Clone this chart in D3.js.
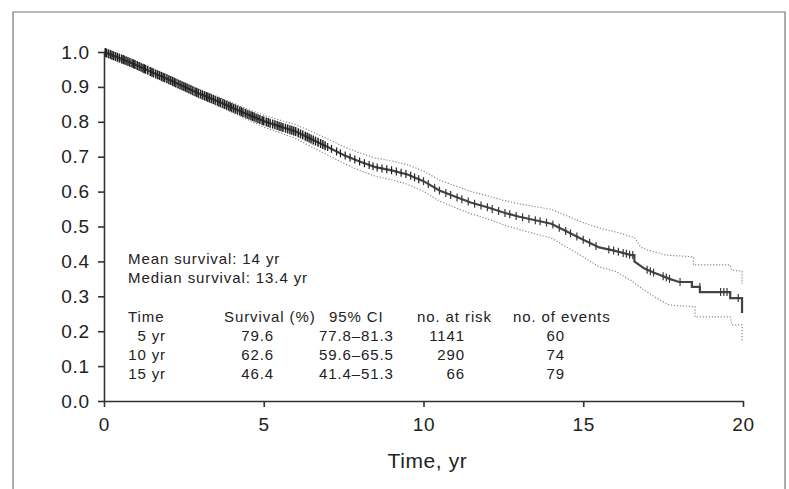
<!DOCTYPE html>
<html lang="en">
<head>
<meta charset="UTF-8">
<title>Survival curve</title>
<script src="https://d3js.org/d3.v7.min.js"></script>
<style>
    body { margin: 0; background: #fff; }
    svg { display: block; }
    text { font-family: 'Liberation Sans', Arial, sans-serif; fill: #222; }
</style>
</head>
<body>
<div id="chart"></div>
<script>
    // --- Data ---
    const gridTime = [0, 0.5, 1, 1.5, 2, 2.5, 3, 3.5, 4, 4.5, 5, 5.5, 6, 6.5, 7, 7.5,
                      8, 8.5, 9, 9.5, 10, 10.5, 11, 11.5, 12, 12.5, 13, 13.5, 14, 14.5, 15, 15.5];

    const mainEarly = [1.000, 0.982, 0.963, 0.942, 0.922, 0.901, 0.880, 0.861, 0.841, 0.821,
                       0.802, 0.787, 0.772, 0.750, 0.728, 0.705, 0.686, 0.670, 0.661, 0.649,
                       0.630, 0.603, 0.585, 0.568, 0.555, 0.540, 0.528, 0.518, 0.508, 0.485,
                       0.462, 0.440];
    const mainLateTime = [16, 16.5, 16.6, 16.6, 16.9, 17.2, 17.4, 17.7, 18.0, 18.4, 18.4,
                          18.65, 18.65, 19.6, 19.6, 19.97, 19.97];
    const mainLate = [0.430, 0.418, 0.418, 0.400, 0.380, 0.368, 0.361, 0.350, 0.341, 0.341, 0.327,
                      0.327, 0.312, 0.312, 0.295, 0.295, 0.252];

    const upperEarly = [1.000, 0.988, 0.971, 0.951, 0.932, 0.912, 0.892, 0.874, 0.855, 0.836,
                        0.819, 0.805, 0.792, 0.772, 0.751, 0.729, 0.711, 0.696, 0.688, 0.677,
                        0.659, 0.633, 0.616, 0.600, 0.588, 0.575, 0.565, 0.557, 0.549, 0.530,
                        0.511, 0.496];
    const upperLateTime = [16.15, 16.6, 16.8, 17.0, 17.6, 18.45, 18.45, 19.6, 19.65, 19.97, 19.97];
    const upperLate = [0.481, 0.468, 0.441, 0.433, 0.418, 0.413, 0.390, 0.390, 0.375, 0.372, 0.335];

    const lowerEarly = [1.000, 0.976, 0.955, 0.933, 0.912, 0.890, 0.868, 0.848, 0.827, 0.806,
                        0.785, 0.769, 0.752, 0.728, 0.705, 0.681, 0.661, 0.644, 0.634, 0.621,
                        0.601, 0.573, 0.554, 0.536, 0.522, 0.505, 0.491, 0.479, 0.467, 0.440,
                        0.413, 0.384];
    const lowerLateTime = [16.0, 16.5, 16.9, 17.4, 17.7, 18.5, 18.5, 19.6, 19.65, 19.97, 19.97];
    const lowerLate = [0.372, 0.345, 0.318, 0.289, 0.275, 0.270, 0.241, 0.241, 0.218, 0.218, 0.169];

    // censored observations (years)
    const censorTimes = [0.04, 0.08, 0.14, 0.2, 0.25, 0.3, 0.36, 0.42, 0.48, 0.55, 0.6, 0.63,
        0.69, 0.75, 0.81, 0.88, 0.93, 0.97, 1.04, 1.1, 1.16, 1.22, 1.26, 1.3, 1.37, 1.45, 1.5,
        1.55, 1.62, 1.68, 1.74, 1.8, 1.85, 1.9, 1.97, 2.03, 2.09, 2.15, 2.2, 2.25, 2.32, 2.38,
        2.44, 2.5, 2.55, 2.6, 2.66, 2.72, 2.78, 2.85, 2.9, 2.95, 3.02, 3.08, 3.14, 3.2, 3.25,
        3.3, 3.36, 3.42, 3.48, 3.55, 3.6, 3.65, 3.72, 3.78, 3.84, 3.9, 3.95, 4.0, 4.06, 4.12,
        4.18, 4.25, 4.3, 4.35, 4.42, 4.48, 4.54, 4.6, 4.65, 4.7, 4.76, 4.82, 4.88, 4.95, 5.0,
        5.08, 5.14, 5.2, 5.28, 5.35, 5.42, 5.48, 5.54, 5.6, 5.68, 5.75, 5.82, 5.88, 5.94, 6.0,
        6.08, 6.15, 6.22, 6.3, 6.36, 6.42, 6.48, 6.55, 6.62, 6.7, 6.78, 6.85, 6.92, 7.0,
        7.12, 7.28, 7.4, 7.55, 7.7, 7.85, 8.0, 8.15, 8.3, 8.42, 8.55, 8.7, 8.85, 9.0, 9.15, 9.3,
        9.45, 9.6, 9.72, 9.85, 10.0, 10.15, 10.35, 10.5, 10.7, 10.85, 11.05, 11.2, 11.4, 11.6,
        11.8, 12.0, 12.15, 12.35, 12.55, 12.7, 12.9, 13.1, 13.3, 13.5, 13.65, 13.85, 14.05,
        14.25, 14.45, 14.6, 14.8, 15.0, 15.2, 15.4, 15.8, 15.95, 16.1, 16.25, 16.35, 16.45,
        16.55, 17.0, 17.1, 17.2, 17.5, 17.6, 17.7, 18.03, 18.65, 19.3, 19.4, 19.5, 19.85];

    const xTicks = [0, 5, 10, 15, 20];
    const yTicks = [0, 0.1, 0.2, 0.3, 0.4, 0.5, 0.6, 0.7, 0.8, 0.9, 1.0];

    const summaryLines = ['Mean survival: 14 yr', 'Median survival: 13.4 yr'];
    const tableHeader = ['Time', 'Survival (%)', '95% CI', 'no. at risk', 'no. of events'];
    const rowTimes = ['5 yr', '10 yr', '15 yr'];
    const rowSurvival = ['79.6', '62.6', '46.4'];
    const rowCI = ['77.8–81.3', '59.6–65.5', '41.4–51.3'];
    const rowAtRisk = ['1141', '290', '66'];
    const rowEvents = ['60', '74', '79'];

    // --- Setup ---
    const width = 789, height = 489;
    const svg = d3.select('#chart').append('svg')
        .attr('width', width).attr('height', height);

    // outer frame (open at the bottom)
    svg.append('path')
        .attr('d', `M13,${height} V12 H785 V${height}`)
        .attr('fill', 'none').attr('stroke', '#777').attr('stroke-width', 1.2);

    const x = d3.scaleLinear().domain([0, 20]).range([104, 743]);
    const y = d3.scaleLinear().domain([0, 1]).range([401, 52]);

    const toPoints = (t, s) => t.map((d, i) => [d, s[i]]);
    const mainPts = toPoints(gridTime.concat(mainLateTime), mainEarly.concat(mainLate));
    const upperPts = toPoints(gridTime.concat(upperLateTime), upperEarly.concat(upperLate));
    const lowerPts = toPoints(gridTime.concat(lowerLateTime), lowerEarly.concat(lowerLate));

    const line = d3.line().x(d => x(d[0])).y(d => y(d[1]));

    // confidence limits (dotted)
    [upperPts, lowerPts].forEach(pts => {
        svg.append('path')
            .attr('d', line(pts))
            .attr('fill', 'none')
            .attr('stroke', '#888')
            .attr('stroke-width', 1.2)
            .attr('stroke-dasharray', '1.2,1.8');
    });

    // survival estimate
    svg.append('path')
        .attr('d', line(mainPts))
        .attr('fill', 'none')
        .attr('stroke', '#444')
        .attr('stroke-width', 2.2);

    // value of the estimate at a given time
    function survAt(t) {
        for (let i = 1; i < mainPts.length; i++) {
            const [t0, s0] = mainPts[i - 1], [t1, s1] = mainPts[i];
            if (t >= t0 && t <= t1) {
                return t1 === t0 ? s0 : s0 + (s1 - s0) * (t - t0) / (t1 - t0);
            }
        }
        return mainPts[mainPts.length - 1][1];
    }

    // censor marks: darker and a bit taller where they crowd together
    svg.append('g').selectAll('line')
        .data(censorTimes)
        .enter().append('line')
        .attr('x1', d => x(d)).attr('x2', d => x(d))
        .attr('y1', d => y(survAt(d)) - (d < 7 ? 4.5 : 4))
        .attr('y2', d => y(survAt(d)) + (d < 7 ? 4.5 : 4))
        .attr('stroke', d => d < 10 ? '#222' : '#3a3a3a')
        .attr('stroke-width', d => d < 7 ? 1.5 : 1.2);

    // --- Axes ---
    const yAxis = svg.append('g')
        .attr('transform', `translate(${x(0)},0)`)
        .call(d3.axisLeft(y).tickValues(yTicks).tickFormat(d3.format('.1f'))
            .tickSize(6).tickPadding(8).tickSizeOuter(0));

    const xAxis = svg.append('g')
        .attr('transform', `translate(0,${y(0)})`)
        .call(d3.axisBottom(x).tickValues(xTicks).tickFormat(d3.format('d'))
            .tickSize(6).tickPadding(11).tickSizeOuter(0));

    [yAxis, xAxis].forEach(g => {
        g.select('.domain').attr('stroke', '#333').attr('stroke-width', 1.6);
        g.selectAll('.tick line').attr('stroke', '#333').attr('stroke-width', 1.6);
        g.selectAll('.tick text')
            .style('font-family', "'Liberation Sans', Arial, sans-serif")
            .style('font-size', '19px')
            .style('letter-spacing', '0.8px')
            .attr('fill', '#222');
    });

    svg.append('text')
        .attr('x', x(10) + 4).attr('y', 468)
        .attr('text-anchor', 'middle')
        .style('font-size', '21px')
        .style('letter-spacing', '0.6px')
        .text('Time, yr');

    // --- Annotation ---
    const note = svg.append('g')
        .style('font-size', '15px')
        .style('letter-spacing', '0.9px');

    summaryLines.forEach((s, i) => {
        note.append('text').attr('x', 128).attr('y', 264 + i * 19).text(s);
    });

    const headerX = [128, 224, 329, 417, 513];
    tableHeader.forEach((h, i) => {
        note.append('text').attr('x', headerX[i]).attr('y', 322).text(h);
    });

    const rowY = [341, 360, 378.5];
    const columns = [
        { values: rowTimes, x: 166, anchor: 'end' },
        { values: rowSurvival, x: 274, anchor: 'end' },
        { values: rowCI, x: 319, anchor: 'start' },
        { values: rowAtRisk, x: 465, anchor: 'end' },
        { values: rowEvents, x: 565, anchor: 'end' }
    ];
    columns.forEach(col => {
        col.values.forEach((v, i) => {
            note.append('text')
                .attr('x', col.x).attr('y', rowY[i])
                .attr('text-anchor', col.anchor)
                .text(v);
        });
    });
</script>
</body>
</html>
